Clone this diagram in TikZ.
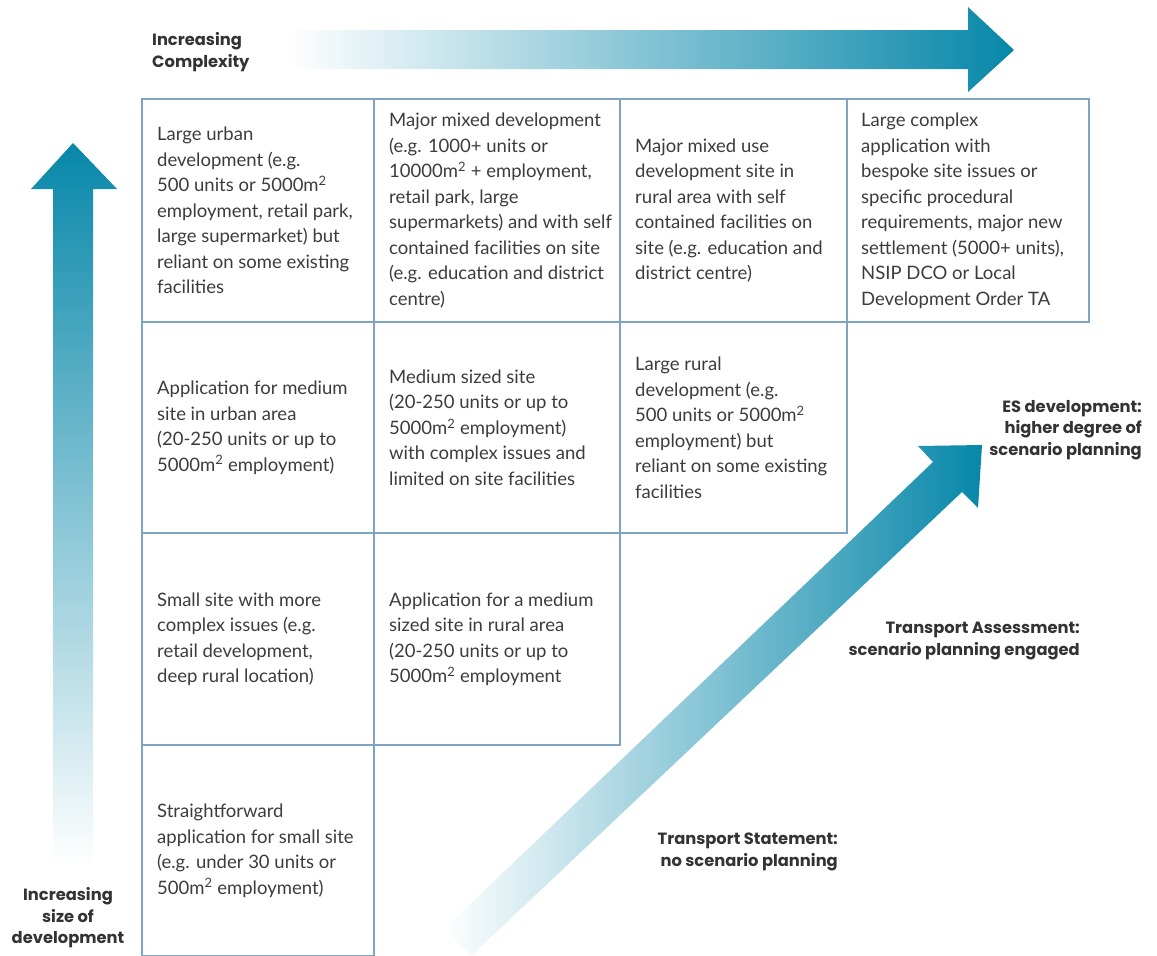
\documentclass[tikz,border=0pt]{standalone}
\usepackage{fontspec}
\setmainfont{Lato}
\newfontfamily\labfont{Poppins}
\usetikzlibrary{calc}
\definecolor{tealA}{HTML}{0787A9}
\definecolor{gridc}{HTML}{7EA6C4}
\definecolor{txt}{HTML}{3C3C3C}
\definecolor{lbl}{HTML}{333333}
\newcommand{\sq}{m\textsuperscript{2}}
\begin{document}
\begin{tikzpicture}[x=1pt,y=-1pt,
  cell/.style={draw=gridc, line width=2.4pt, inner sep=0pt, anchor=north west},
  celltext/.style={anchor=west, align=left, inner sep=0pt, text=txt, font=\fontsize{18.5}{25.5}\selectfont},
  lab/.style={font=\labfont\bfseries\fontsize{16.3}{21.5}\selectfont, text=lbl, inner sep=0pt}]
\useasboundingbox (0,0) rectangle (1157,956);

% arrows
\shade[left color=white, right color=tealA]
  (288,30) -- (968,30) -- (968,7) -- (1014,50) -- (968,92) -- (968,69) -- (288,69) -- cycle;
\shade[top color=tealA, bottom color=white]
  (53,867) -- (53,189) -- (31,189) -- (73,143) -- (117,189) -- (93,189) -- (93,867) -- cycle;
\shade[left color=white, right color=tealA]
  (443,930) -- (933,462) -- (918,446) -- (982,445) -- (978,508) -- (962,492) -- (472,955) -- cycle;

% grid cells
\node[cell, minimum width=232pt, minimum height=223pt] (c11) at (141,98) {};
\node[cell, minimum width=246pt, minimum height=223pt] (c12) at (373,98) {};
\node[cell, minimum width=227pt, minimum height=223pt] (c13) at (619,98) {};
\node[cell, minimum width=242pt, minimum height=223pt] (c14) at (846,98) {};
\node[cell, minimum width=232pt, minimum height=211pt] (c21) at (141,321) {};
\node[cell, minimum width=246pt, minimum height=211pt] (c22) at (373,321) {};
\node[cell, minimum width=227pt, minimum height=211pt] (c23) at (619,321) {};
\node[cell, minimum width=232pt, minimum height=212pt] (c31) at (141,532) {};
\node[cell, minimum width=246pt, minimum height=212pt] (c32) at (373,532) {};
\node[cell, minimum width=232pt, minimum height=211pt] (c41) at (141,744) {};

% cell texts
\node[celltext] (t11) at ($(c11.west)+(16,0)$) {Large urban\\development (e.g.\\500 units or 5000\sq\\employment, retail park,\\large supermarket) but\\reliant on some existing\\facilities};
\node[celltext] (t12) at ($(c12.west)+(16,0)$) {Major mixed development\\(e.g. 1000+ units or\\10000\sq{} + employment,\\retail park, large\\supermarkets) and with self\\contained facilities on site\\(e.g. education and district\\centre)};
\node[celltext] (t13) at ($(c13.west)+(16,0)$) {Major mixed use\\development site in\\rural area with self\\contained facilities on\\site (e.g. education and\\district centre)};
\node[celltext] (t14) at ($(c14.west)+(15,0)$) {Large complex\\application with\\bespoke site issues or\\specific procedural\\requirements, major new\\settlement (5000+ units),\\NSIP DCO or Local\\Development Order TA};
\node[celltext] (t21) at ($(c21.west)+(16,0)$) {Application for medium\\site in urban area\\(20-250 units or up to\\5000\sq{} employment)};
\node[celltext] (t22) at ($(c22.west)+(16,0)$) {Medium sized site\\(20-250 units or up to\\5000\sq{} employment)\\with complex issues and\\limited on site facilities};
\node[celltext] (t23) at ($(c23.west)+(16,0)$) {Large rural\\development (e.g.\\500 units or 5000\sq\\employment) but\\reliant on some existing\\facilities};
\node[celltext] (t31) at ($(c31.west)+(16,0)$) {Small site with more\\complex issues (e.g.\\retail development,\\deep rural location)};
\node[celltext] (t32) at ($(c32.west)+(16,0)$) {Application for a medium\\sized site in rural area\\(20-250 units or up to\\5000\sq{} employment};
\node[celltext] (t41) at ($(c41.west)+(16,0)$) {Straightforward\\application for small site\\(e.g. under 30 units or\\500\sq{} employment)};

% labels
\node[lab, anchor=west, align=left] (lcx) at (152,52) {Increasing\\Complexity};
\node[lab, align=center] (lsz) at (68,918) {Increasing\\size of\\development};
\node[lab, anchor=east, align=right] (les) at (1142,430) {ES development:\\higher degree of\\scenario planning};
\node[lab, anchor=east, align=right] (lta) at (1080,641) {Transport Assessment:\\scenario planning engaged};
\node[lab, anchor=east, align=right] (lts) at (838,852) {Transport Statement:\\no scenario planning};
\end{tikzpicture}
\end{document}
